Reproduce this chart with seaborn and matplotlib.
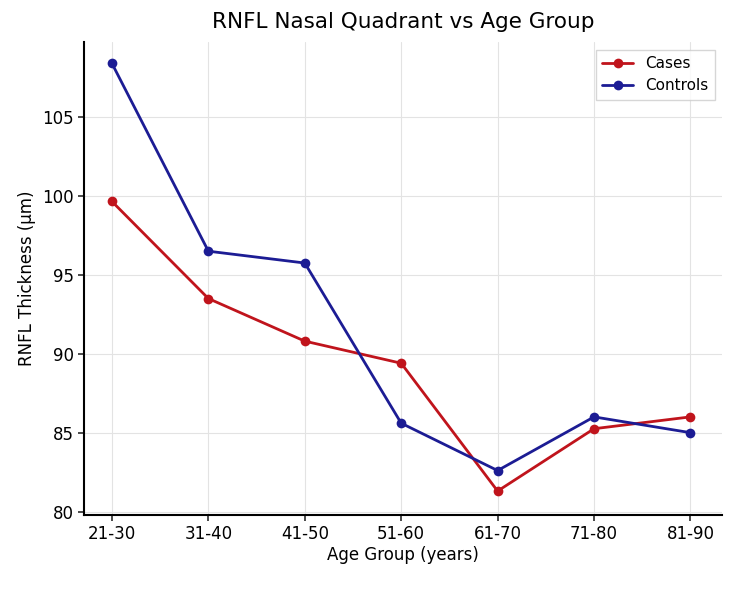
import matplotlib
matplotlib.use("Agg")
import matplotlib.pyplot as plt
import seaborn as sns
import pandas as pd

age_groups = ["21-30", "31-40", "41-50", "51-60", "61-70", "71-80", "81-90"]
cases = [99.65, 93.5, 90.8, 89.4, 81.3, 85.25, 86.0]
controls = [108.4, 96.5, 95.75, 85.6, 82.6, 86.0, 85.0]
series_names = ["Cases", "Controls"]
colors = ["#c0141c", "#1c1c94"]

df = pd.DataFrame({
    "x": list(range(len(age_groups))) * 2,
    "value": cases + controls,
    "group": [series_names[0]] * len(cases) + [series_names[1]] * len(controls),
})

sns.set_theme(style="whitegrid")
plt.rcParams["font.family"] = ["DejaVu Sans"]
plt.rcParams["text.color"] = "black"
plt.rcParams["axes.labelcolor"] = "black"
plt.rcParams["xtick.color"] = "black"
plt.rcParams["ytick.color"] = "black"

fig = plt.figure(figsize=(7.5, 5.93), dpi=100)
ax = fig.add_axes([0.112, 0.132, 0.851, 0.797])

sns.lineplot(data=df, x="x", y="value", hue="group", palette=colors,
             marker="o", markersize=7, markeredgewidth=0, linewidth=2, ax=ax)

ax.set_xticks(range(len(age_groups)))
ax.set_xticklabels(age_groups)
ax.set_xlim(-0.29, 6.33)
ax.set_ylim(79.8, 109.75)
ax.set_yticks([80, 85, 90, 95, 100, 105])
ax.tick_params(axis="both", labelsize=12, length=4, color="#333333", bottom=True, left=True)
ax.set_xlabel("Age Group (years)", fontsize=12, labelpad=2)
ax.set_ylabel("RNFL Thickness (µm)", fontsize=12)
ax.set_title("RNFL Nasal Quadrant vs Age Group", fontsize=15.5, pad=10, color="black")

ax.grid(True, color="#e3e3e3", linewidth=0.8)
for side in ["top", "right"]:
    ax.spines[side].set_visible(False)
for side in ["left", "bottom"]:
    ax.spines[side].set_color("black")
    ax.spines[side].set_linewidth(1.5)

leg = ax.legend(loc="upper right", fontsize=11, frameon=True, fancybox=False)
leg.get_frame().set_edgecolor("#cccccc")
for t in leg.get_texts():
    t.set_color("black")

fig.savefig("out.png", dpi=100)
